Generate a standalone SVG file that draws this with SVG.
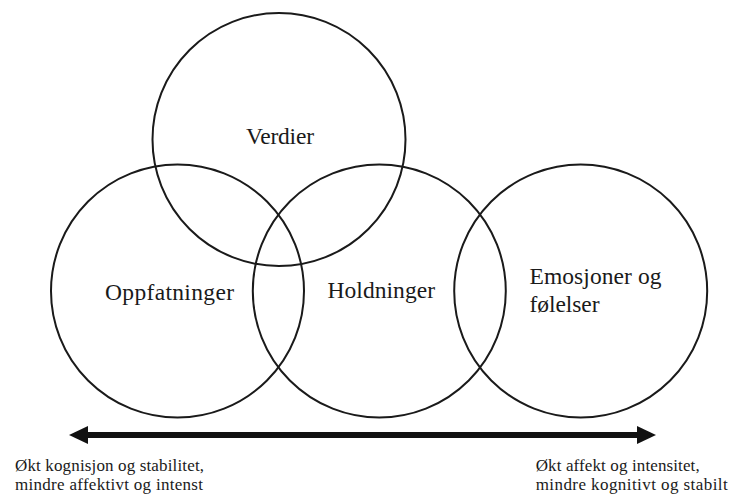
<svg xmlns="http://www.w3.org/2000/svg" width="730" height="495" viewBox="0 0 730 495">
<style>
.c{fill:none;stroke:#1a1a1a;stroke-width:2}
.l{font-size:23.5px;fill:#1a1a1a}
.b{font-size:17px;fill:#1a1a1a}
</style>
<rect width="730" height="495" fill="#fff"/>
<g font-family="Liberation Serif, serif">
<g id="verdier"><circle class="c" cx="279" cy="139.5" r="126.5"/><text class="l" x="246" y="144" textLength="68">Verdier</text></g>
<g id="oppfatninger"><circle class="c" cx="177.5" cy="291" r="126.5"/><text class="l" x="105" y="300" textLength="129">Oppfatninger</text></g>
<g id="holdninger"><circle class="c" cx="379.3" cy="291" r="126.5"/><text class="l" x="327.5" y="297.5" textLength="107.5">Holdninger</text></g>
<g id="emosjoner"><circle class="c" cx="580.7" cy="291" r="126.5"/><text class="l" x="529.5" y="284" textLength="132">Emosjoner og</text><text class="l" x="529.5" y="311.5" textLength="70">følelser</text></g>
<g id="connectors">
<line x1="84" y1="435" x2="640" y2="435" stroke="#111" stroke-width="6"/>
<polygon points="69,435 88,426 88,444" fill="#111"/>
<polygon points="656,435 637,426 637,444" fill="#111"/>
</g>
<g id="labels">
<text class="b" x="15" y="471" textLength="189">Økt kognisjon og stabilitet,</text>
<text class="b" x="15" y="490" textLength="188">mindre affektivt og intenst</text>
<text class="b" x="535.7" y="471" textLength="164">Økt affekt og intensitet,</text>
<text class="b" x="535.7" y="490" textLength="192">mindre kognitivt og stabilt</text>
</g>
</g>
</svg>
